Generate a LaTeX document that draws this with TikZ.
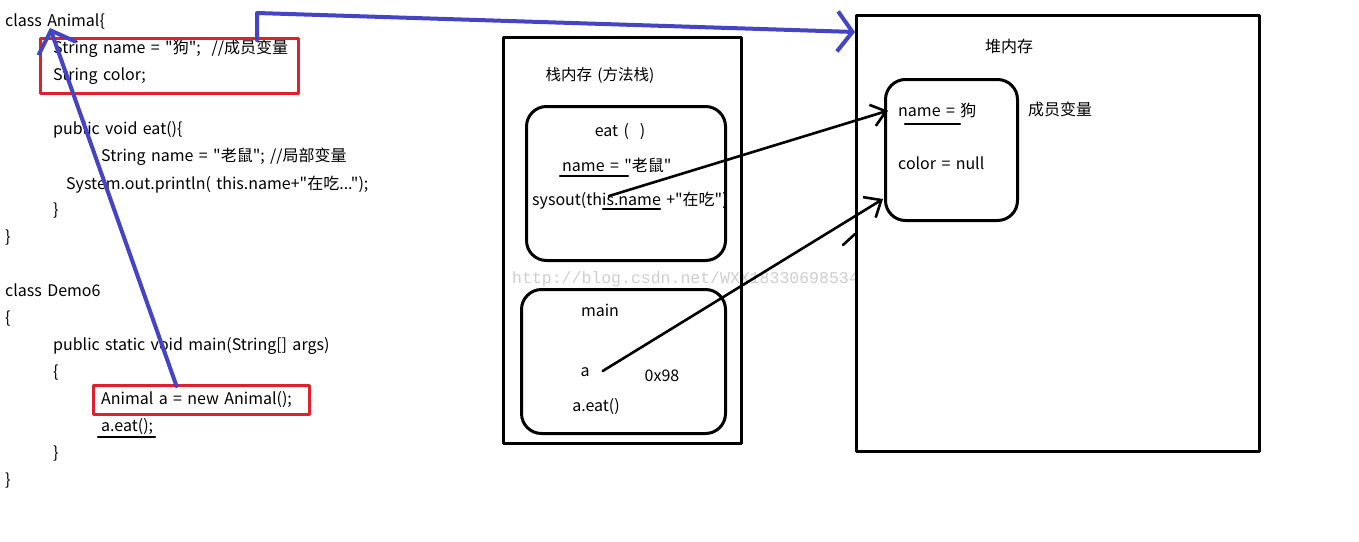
\documentclass[tikz,border=0pt]{standalone}
\usepackage{fontspec}
\setmainfont{Noto Sans CJK SC}[Ligatures=TeXOff, WordSpace=1.5]
\newfontfamily\markfont{Liberation Mono}
\usetikzlibrary{arrows.meta,calc,positioning}
\definecolor{penblue}{HTML}{4444C4}
\definecolor{penred}{HTML}{E0202C}
\definecolor{markgray}{HTML}{CFCFCF}
\tikzset{
every picture/.style={line cap=round,line join=round},
code line/.style={anchor=mid west, inner sep=0pt, yshift=-3pt, font=\fontsize{16}{18}\selectfont},
box text/.style={inner sep=0pt, yshift=-3pt, font=\fontsize{16}{18}\selectfont},
mem box/.style={draw=black, line width=3pt, anchor=north west, inner sep=0pt},
frame box/.style={mem box, rounded corners=20pt},
red frame/.style={draw=penred, line width=3pt, anchor=north west, inner sep=0pt},
blue pen/.style={draw=penblue, line width=4pt},
black pen/.style={draw=black, line width=2.6pt},
under line/.style={draw=black, line width=2.5pt}
}
\begin{document}
\begin{tikzpicture}[x=1pt,y=-1pt]
\useasboundingbox[fill=white] (0,0) rectangle (1359,541);
% code on the left
\node[code line] (animal) at (5,21) {class Animal\{};
\node[code line] (fname) at (53,48) {String name = "狗";\ \ //成员变量};
\node[code line] (fcolor) at (53,75) {String color;};
\node[code line] (eatdef) at (53,129) {public void eat()\{};
\node[code line] (lname) at (101,156) {String name = "老鼠"; //局部变量};
\node[code line] (println) at (66,184) {System.out.println( this.name+"在吃...");};
\node[code line] at (53,210) {\}};
\node[code line] at (5,237) {\}};
\node[code line] (demo) at (5,291) {class Demo6};
\node[code line] at (5,318) {\{};
\node[code line] (maindef) at (53,345) {public static void main(String[] args)};
\node[code line] at (53,372) {\{};
\node[code line] (newline) at (101,399) {Animal a = new Animal();};
\node[code line] (callline) at (101,426) {a.eat();};
\node[code line] at (53,453) {\}};
\node[code line] at (5,480) {\}};
\node[red frame, minimum width=258pt, minimum height=55pt] (fieldbox) at (39,37) {};
\node[red frame, minimum width=216pt, minimum height=29pt] (newbox) at (92,384) {};
\draw[under line] (98,437) -- (155,437);
% stack memory
\node[font=\markfont\fontsize{16.5}{16}\selectfont, text=markgray, anchor=mid west, inner sep=0pt] (mark) at (512,281) {http://blog.csdn.net/WXX18330698534};
\node[mem box, minimum width=238pt, minimum height=406pt] (stack) at (502,36) {};
\node[box text, font=\fontsize{15.5}{16}\selectfont] (stacktitle) at (600,72) {栈内存 (方法栈)};
\node[frame box, minimum width=199pt, minimum height=154pt] (eatframe) at (525,105) {};
\node[box text] (eatname) at (620,129) {eat (\ \ )};
\node[box text, anchor=mid west] (localname) at (562,166) {name = "老鼠"};
\node[box text, anchor=mid west] (sysout) at (532,200) {sysout(this.name +"在吃")};
\draw[under line] (560,176) -- (628,176);
\draw[under line] (603,209) -- (660,209);
\node[frame box, minimum width=204pt, minimum height=144pt] (mainframe) at (520,288) {};
\node[box text] (mainname) at (600,307) {main};
\node[box text] (varA) at (585,369) {a};
\node[box text] (addr) at (662,373) {0x98};
\node[box text] (callA) at (596,404) {a.eat()};
% heap memory
\node[mem box, minimum width=403pt, minimum height=436pt] (heap) at (855,14) {};
\node[box text] (heaptitle) at (1009,43) {堆内存};
\node[frame box, minimum width=132pt, minimum height=141pt] (obj) at (884,78) {};
\node[box text, anchor=mid west] (hname) at (898,111) {name = 狗};
\node[box text, anchor=mid west] (hcolor) at (898,164) {color = null};
\node[box text, anchor=mid west] (hnote) at (1028,110) {成员变量};
\draw[under line] (905,124) -- (960,124);
% references
\coordinate (classA) at (50,28);
\coordinate (thisref) at (609,196);
\coordinate (aref) at ($(varA.east)+(13,-1)$);
\draw[blue pen, -{Straight Barb[length=19pt,width=40pt]}] ($(newbox.north)+(-25,2)$) -- (classA);
\draw[blue pen, -{Straight Barb[length=15pt,width=40pt]}] ($(fieldbox.north west)+(218,3)$) -- ++(0,-27) -- ($(heap.north west)+(0,18)$);
\draw[black pen, -{Straight Barb[length=14pt,width=22pt]}] (thisref) -- ($(hname.west)+(-10,0)$);
\draw[black pen, -{Straight Barb[length=14pt,width=24pt]}] (aref) -- ($(obj.south west)+(-1,-23)$);
\draw[black pen] (843,245) -- (855,234);
\end{tikzpicture}
\end{document}
